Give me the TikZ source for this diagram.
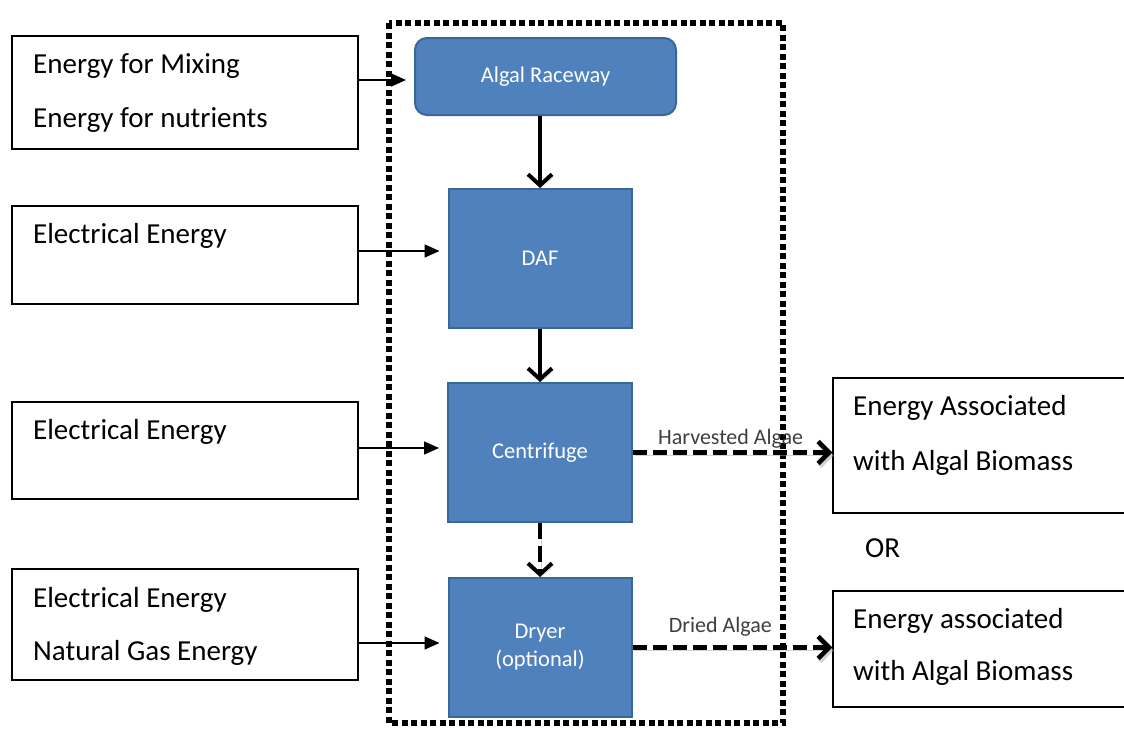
\documentclass[tikz,border=0pt]{standalone}
\usepackage{fontspec}
\setmainfont{Carlito}
\usetikzlibrary{arrows.meta,calc}

\definecolor{procfill}{HTML}{4F81BD}
\definecolor{procline}{HTML}{3A6699}
\definecolor{labelgray}{HTML}{3F3F3F}

\tikzset{
  sidebox/.style={draw=black, line width=1.5pt, fill=white, inner sep=0pt},
  sidetext/.style={anchor=base west, inner sep=0pt, font=\fontsize{29}{35}\selectfont},
  procbox/.style={draw=procline, line width=2pt, fill=procfill, inner sep=0pt,
    text=white, align=center, font=\fontsize{22.5}{28}\selectfont},
  feed/.style={line width=1.5pt, -{Triangle[length=15pt,width=13pt]}, shorten >=8pt},
  flow/.style={line width=4pt, -{Straight Barb[length=11pt,width=24pt,line width=4pt]},
    preaction={draw=black!35, opacity=0.5, transform canvas={shift={(1.5pt,-2.5pt)}}}},
  output/.style={line width=5pt, dash pattern=on 14pt off 6pt,
    -{Straight Barb[length=11pt,width=22pt,line width=4.5pt]},
    preaction={draw=black!35, opacity=0.5, transform canvas={shift={(1.5pt,-3pt)}}}},
  flowlabel/.style={anchor=base, inner sep=0pt, text=labelgray, font=\fontsize{22}{26}\selectfont}
}

\begin{document}
\begin{tikzpicture}[x=1pt, y=-1pt]
  \clip (0,0) rectangle (1124,728);
  \fill[white] (0,0) rectangle (1124,728);

  % system boundary
  \draw[line width=6pt, dash pattern=on 6pt off 3.5pt] (389,23) rectangle (783,723);

  % process chain
  \node[procbox, rounded corners=12pt, minimum width=261pt, minimum height=77pt]
    (race) at (545.5,76.5) {Algal Raceway};
  \node[procbox, minimum width=183pt, minimum height=139pt] (daf) at (540,258.5) {DAF};
  \node[procbox, minimum width=184pt, minimum height=139pt] (cent) at (540,452.5) {Centrifuge};
  \node[procbox, minimum width=183pt, minimum height=139pt] (dryer) at (540,647.5) {Dryer\\(optional)};

  % energy inputs
  \node[sidebox, minimum width=346pt, minimum height=113pt] (in1) at (185,92.5) {};
  \node[sidebox, minimum width=346pt, minimum height=98pt] (in2) at (185,255) {};
  \node[sidebox, minimum width=346pt, minimum height=97pt] (in3) at (185,450.5) {};
  \node[sidebox, minimum width=346pt, minimum height=111pt] (in4) at (185,624.5) {};

  \node[sidetext] (in1a) at (33,73) {Energy for Mixing};
  \node[sidetext] (in1b) at (33,127) {Energy for nutrients};
  \node[sidetext] (in2a) at (33,243) {Electrical Energy};
  \node[sidetext] (in3a) at (33,439) {Electrical Energy};
  \node[sidetext] (in4a) at (33,607) {Electrical Energy};
  \node[sidetext] (in4b) at (33,660) {Natural Gas Energy};

  % energy outputs
  \node[sidebox, minimum width=300pt, minimum height=135pt] (out1) at (983,445.5) {};
  \node[sidebox, minimum width=300pt, minimum height=116pt] (out2) at (983,649) {};

  \node[sidetext] (out1a) at (853,415) {Energy Associated};
  \node[sidetext] (out1b) at (853,470) {with Algal Biomass};
  \node[sidetext] (orlbl) at (865,557) {OR};
  \node[sidetext] (out2a) at (853,628) {Energy associated};
  \node[sidetext] (out2b) at (853,680) {with Algal Biomass};

  % feeds into the process chain
  \draw[feed] (in1.east |- 0,80) -- (race.west |- 0,80);
  \draw[feed] (in2.east |- 0,251) -- (daf.west |- 0,251);
  \draw[feed] (in3.east |- 0,448) -- (cent.west |- 0,448);
  \draw[feed] (in4.east |- 0,643) -- (dryer.west |- 0,643);

  % material flow
  \draw[flow] (race.south -| daf.north) -- (daf.north);
  \draw[flow] (daf.south) -- (cent.north);
  \draw[flow, dash pattern=on 16pt off 7pt] (cent.south) -- (dryer.north);

  \draw[output] (cent.east) -- (cent.east -| out1.west)
    node[flowlabel, pos=0.49, yshift=8pt] (lblh) {Harvested Algae};
  \draw[output] (dryer.east) -- (dryer.east -| out2.west)
    node[flowlabel, pos=0.44, yshift=15pt] (lbld) {Dried Algae};
\end{tikzpicture}
\end{document}
